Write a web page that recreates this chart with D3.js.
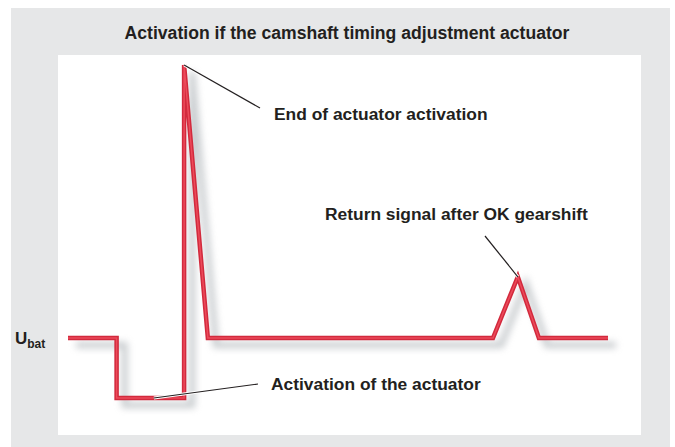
<!DOCTYPE html>
<html>
<head>
<meta charset="utf-8">
<script src="https://cdn.jsdelivr.net/npm/d3@7"></script>
<style>
  body { margin: 0; background: #fff; }
  text { font-family: "Liberation Sans", Arial, sans-serif; font-weight: bold; fill: #231f20; }
</style>
</head>
<body>
<div id="chart"></div>
<script>
var svgWidth = 675;
var svgHeight = 447;

// signal: time (arbitrary units) and voltage (U_bat = 1)
var times = [0, 9, 9, 21.5, 21.5, 25.9, 78.7, 83.3, 87.2, 100];
var volts = [1, 1, 0, 0, 5.55, 1, 1, 2.02, 1, 1];

// annotations: point on the signal, label
var notes = [
  { idx: 4, label: "End of actuator activation", tx: 274, ty: 120, lx: 260, ly: 108 },
  { idx: 7, label: "Return signal after OK gearshift", tx: 325, ty: 220, lx: 485, ly: 236 },
  { at: [15.9, 0], label: "Activation of the actuator", tx: 271, ty: 390, lx: 258, ly: 384 }
];
var title = "Activation if the camshaft timing adjustment actuator";

var data = times.map(function(t, i) { return { t: t, v: volts[i] }; });

var svg = d3.select("#chart")
  .append("svg")
  .attr("width", svgWidth)
  .attr("height", svgHeight);

// panels
svg.append("rect")
  .attr("x", 11).attr("y", 8)
  .attr("width", 659).attr("height", 439)
  .attr("fill", "#e6e7e8");

svg.append("rect")
  .attr("x", 58).attr("y", 55)
  .attr("width", 583).attr("height", 380)
  .attr("fill", "#ffffff");

svg.append("text")
  .attr("x", 347)
  .attr("y", 39)
  .attr("text-anchor", "middle")
  .attr("font-size", "17.6px")
  .text(title);

var xScale = d3.scaleLinear().domain([0, 100]).range([68, 608]);
var yScale = d3.scaleLinear().domain([0, 1]).range([398, 338]);

var defs = svg.append("defs");
defs.append("filter")
  .attr("id", "blur")
  .attr("x", "-20%").attr("y", "-20%")
  .attr("width", "140%").attr("height", "140%")
  .append("feGaussianBlur")
  .attr("stdDeviation", 3.5);

var line = d3.line()
  .x(d => xScale(d.t))
  .y(d => yScale(d.v));

// shadow
svg.append("path")
  .datum(data)
  .attr("d", line)
  .attr("transform", "translate(8,7)")
  .attr("fill", "none")
  .attr("stroke", "#9aa0a6")
  .attr("stroke-width", 6)
  .attr("opacity", 0.55)
  .attr("filter", "url(#blur)");

svg.append("path")
  .datum(data)
  .attr("d", line)
  .attr("fill", "none")
  .attr("stroke", "#d22a3d")
  .attr("stroke-width", 4.5)
  .attr("stroke-linejoin", "miter");

svg.append("path")
  .datum(data)
  .attr("d", line)
  .attr("fill", "none")
  .attr("stroke", "#ec4a5a")
  .attr("stroke-width", 1.5);

// leaders and labels
notes.forEach(function(n) {
  var px = n.at ? xScale(n.at[0]) : xScale(data[n.idx].t);
  var py = n.at ? yScale(n.at[1]) : yScale(data[n.idx].v);
  svg.append("line")
    .attr("x1", px).attr("y1", py)
    .attr("x2", n.lx).attr("y2", n.ly)
    .attr("stroke", "#ffffff")
    .attr("stroke-width", 3);
  svg.append("line")
    .attr("x1", px).attr("y1", py)
    .attr("x2", n.lx).attr("y2", n.ly)
    .attr("stroke", "#231f20")
    .attr("stroke-width", 1.2);
  svg.append("text")
    .attr("x", n.tx)
    .attr("y", n.ty)
    .attr("font-size", "17.4px")
    .text(n.label);
});

// U_bat label
var ubat = svg.append("text")
  .attr("x", 15)
  .attr("y", yScale(1) + 6)
  .attr("font-size", "17px");
ubat.append("tspan").text("U");
ubat.append("tspan").attr("font-size", "12px").attr("dy", 4).text("bat");
</script>
</body>
</html>
